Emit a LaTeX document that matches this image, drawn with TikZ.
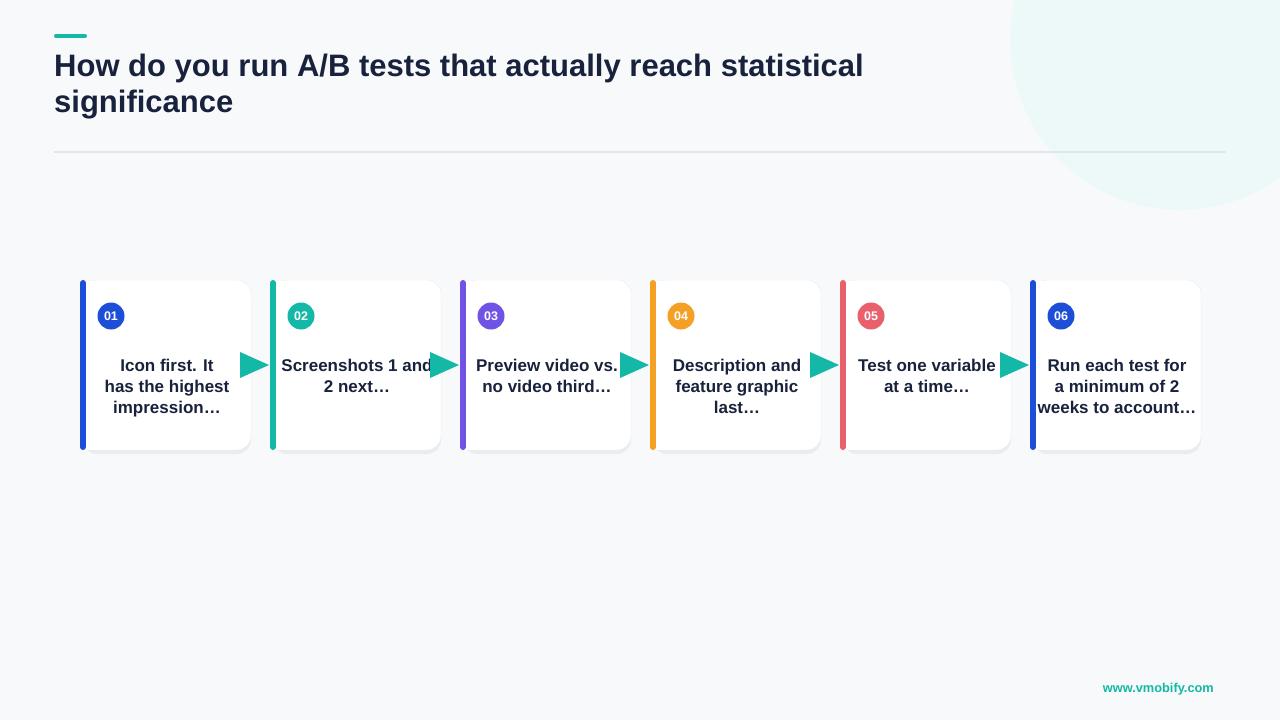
\documentclass[tikz,border=0pt]{standalone}
\usepackage{fontspec}
\setmainfont{Liberation Sans}
\usepackage{tikz}
\usetikzlibrary{positioning,calc,shadows}
\definecolor{ink}{HTML}{19223D}
\definecolor{pagebg}{HTML}{F7F9FB}
\definecolor{mint}{HTML}{EDF9F8}
\definecolor{rulegray}{HTML}{E1E5EE}
\definecolor{cardedge}{HTML}{E9EDF3}
\definecolor{cblue}{HTML}{1D4ED8}
\definecolor{cteal}{HTML}{14B8A6}
\definecolor{cpurple}{HTML}{7052E5}
\definecolor{corange}{HTML}{F4A024}
\definecolor{cred}{HTML}{E9606C}
\tikzset{
	card/.style={rounded corners=14pt,fill=white,draw=cardedge,minimum width=168pt,minimum height=170pt,inner sep=0pt,outer sep=0pt,
		drop shadow={shadow xshift=0pt,shadow yshift=-4pt,opacity=.05,fill=black}},
	cardcover/.style={fill=white},
	cardbar/.style={line width=6pt,line cap=round,shorten <=3pt,shorten >=3pt},
	numdot/.style={circle,minimum size=27pt,inner sep=0pt,text=white,font=\bfseries\fontsize{12.5}{12.5}\selectfont},
	cardtext/.style={anchor=north,align=center,inner sep=0pt,text=ink,font=\bfseries\fontsize{17}{21}\selectfont},
	steparrow/.style={fill=cteal}
}

\begin{document}
\begin{tikzpicture}[x=1pt,y=-1pt,
	title/.style={anchor=base west,inner sep=0pt,text=ink,font=\bfseries\fontsize{31}{36}\selectfont}]
   \useasboundingbox[fill=pagebg] (0,0) rectangle (1280,720);
   \fill[mint] (1180,40) circle[radius=170];
   % heading
   \draw[cteal,line width=4pt,line cap=round] (56,36) -- (85,36);
   \node[title] (title1) at (54,76) {How do you run A/B tests that actually reach statistical};
   \node[title] (title2) at (54,112.5) {significance};
   \draw[rulegray,line width=1.5pt] (54,152) -- (1226,152);
   % cards
   \node[card] (card1) at (167,365) {};
   \node[card,right=22pt of card1] (card2) {};
   \node[card,right=22pt of card2] (card3) {};
   \node[card,right=22pt of card3] (card4) {};
   \node[card,right=22pt of card4] (card5) {};
   \node[card,right=22pt of card5] (card6) {};
   \fill[cardcover] ([yshift=-.5pt]card1.north west) rectangle ([xshift=16pt,yshift=.5pt]card1.south west);
   \fill[cardcover] ([yshift=-.5pt]card2.north west) rectangle ([xshift=16pt,yshift=.5pt]card2.south west);
   \fill[cardcover] ([yshift=-.5pt]card3.north west) rectangle ([xshift=16pt,yshift=.5pt]card3.south west);
   \fill[cardcover] ([yshift=-.5pt]card4.north west) rectangle ([xshift=16pt,yshift=.5pt]card4.south west);
   \fill[cardcover] ([yshift=-.5pt]card5.north west) rectangle ([xshift=16pt,yshift=.5pt]card5.south west);
   \fill[cardcover] ([yshift=-.5pt]card6.north west) rectangle ([xshift=16pt,yshift=.5pt]card6.south west);
   \draw[cardbar,cblue] (card1.north west) -- (card1.south west);
   \draw[cardbar,cteal] (card2.north west) -- (card2.south west);
   \draw[cardbar,cpurple] (card3.north west) -- (card3.south west);
   \draw[cardbar,corange] (card4.north west) -- (card4.south west);
   \draw[cardbar,cred] (card5.north west) -- (card5.south west);
   \draw[cardbar,cblue] (card6.north west) -- (card6.south west);
   \node[numdot,fill=cblue] (num1) at ($(card1.north west)+(28,36)$) {01};
   \node[numdot,fill=cteal] (num2) at ($(card2.north west)+(28,36)$) {02};
   \node[numdot,fill=cpurple] (num3) at ($(card3.north west)+(28,36)$) {03};
   \node[numdot,fill=corange] (num4) at ($(card4.north west)+(28,36)$) {04};
   \node[numdot,fill=cred] (num5) at ($(card5.north west)+(28,36)$) {05};
   \node[numdot,fill=cblue] (num6) at ($(card6.north west)+(28,36)$) {06};
   \node[cardtext] (text1) at ($(card1.center)+(0,-6)$) {Icon first. It\\has the highest\\impression\ldots};
   \node[cardtext] (text2) at ($(card2.center)+(0,-6)$) {Screenshots 1 and\\2 next\ldots};
   \node[cardtext] (text3) at ($(card3.center)+(0,-6)$) {Preview video vs.\\no video third\ldots};
   \node[cardtext] (text4) at ($(card4.center)+(0,-6)$) {Description and\\feature graphic\\last\ldots};
   \node[cardtext] (text5) at ($(card5.center)+(0,-6)$) {Test one variable\\at a time\ldots};
   \node[cardtext] (text6) at ($(card6.center)+(0,-6)$) {Run each test for\\a minimum of 2\\weeks to account\ldots};
   % arrows between the cards
   \fill[steparrow] ([xshift=-4pt]card2.west) -- ++(-29,-13) -- ++(0,26) -- cycle;
   \fill[steparrow] ([xshift=-4pt]card3.west) -- ++(-29,-13) -- ++(0,26) -- cycle;
   \fill[steparrow] ([xshift=-4pt]card4.west) -- ++(-29,-13) -- ++(0,26) -- cycle;
   \fill[steparrow] ([xshift=-4pt]card5.west) -- ++(-29,-13) -- ++(0,26) -- cycle;
   \fill[steparrow] ([xshift=-4pt]card6.west) -- ++(-29,-13) -- ++(0,26) -- cycle;
   % footer
   \node[anchor=base east,inner sep=0pt,text=cteal,font=\bfseries\fontsize{12.8}{14}\selectfont] (site) at (1214,692) {www.vmobify.com};
\end{tikzpicture}
\end{document}
